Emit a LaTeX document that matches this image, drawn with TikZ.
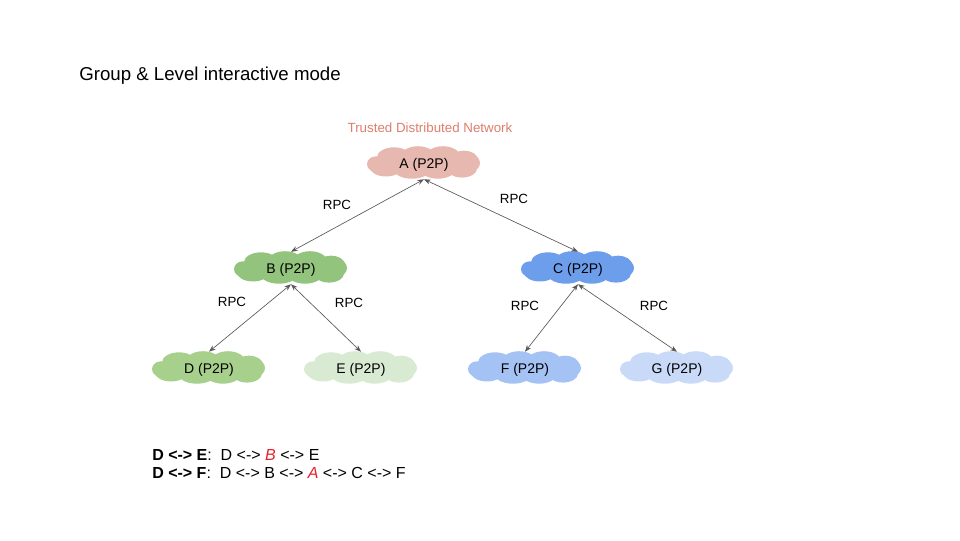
\documentclass[tikz,border=0pt]{standalone}
\usepackage{fontspec}
\setmainfont{Liberation Sans}
\usetikzlibrary{arrows.meta}
\definecolor{cA}{HTML}{E6B8AF}
\definecolor{cB}{HTML}{93C47D}
\definecolor{cC}{HTML}{6D9EEB}
\definecolor{cD}{HTML}{A8D08D}
\definecolor{cE}{HTML}{D9EAD3}
\definecolor{cF}{HTML}{A4C2F4}
\definecolor{cG}{HTML}{C9DAF8}
\definecolor{salmon}{HTML}{DD7E6B}
\definecolor{linkgray}{HTML}{595959}
\definecolor{hot}{HTML}{E6202A}
\tikzset{
  peer/.style={rectangle, minimum width=112*0.75pt, minimum height=32*0.75pt,
    inner sep=0pt, draw=none, font=\fontsize{10.5}{12}\selectfont, text=black},
  peerlabel/.style={peer, yshift=-1.5pt},
  link/.style={draw=linkgray, line width=0.5pt, {Stealth[length=5pt,width=3.8pt]}-{Stealth[length=5pt,width=3.8pt]}},
  rpc/.style={font=\fontsize{10}{12}\selectfont},
}
% puffy cloud body filled behind a peer node
\newcommand\puffcloud[2]{%
  \begin{scope}[shift={(#1.center)}, yscale=1.12]
    \fill[#2] (0,0) ellipse [x radius=48, y radius=10];
    \fill[#2] (-30,-5) ellipse [x radius=17, y radius=9];
    \fill[#2] (-6,-6) ellipse [x radius=17, y radius=9];
    \fill[#2] (19,-6) ellipse [x radius=17, y radius=9];
    \fill[#2] (40,-3) ellipse [x radius=14, y radius=8];
    \fill[#2] (-38,4) ellipse [x radius=16, y radius=8];
    \fill[#2] (-12,6) ellipse [x radius=18, y radius=8];
    \fill[#2] (14,6) ellipse [x radius=17, y radius=8];
    \fill[#2] (38,5) ellipse [x radius=15, y radius=8];
    \fill[#2] (-48,1) ellipse [x radius=9, y radius=7];
    \fill[#2] (48,0) ellipse [x radius=8, y radius=7];
  \end{scope}}
\begin{document}
\begin{tikzpicture}[x=0.75pt,y=-0.75pt]
\useasboundingbox (0,0) rectangle (960,540);

\node[anchor=west, inner sep=0pt, font=\fontsize{14}{16}\selectfont] (title) at (79,76) {Group \& Level interactive mode};
\node[text=salmon, font=\fontsize{10}{12}\selectfont] (net) at (430,128) {Trusted Distributed Network};

\node[peer] (A) at (424,163) {};
\node[peer] (B) at (291,268) {};
\node[peer] (C) at (578,268) {};
\node[peer] (D) at (209,368) {};
\node[peer] (E) at (361,368) {};
\node[peer] (F) at (525,368) {};
\node[peer] (G) at (677,368) {};

\puffcloud{A}{cA}
\puffcloud{B}{cB}
\puffcloud{C}{cC}
\puffcloud{D}{cD}
\puffcloud{E}{cE}
\puffcloud{F}{cF}
\puffcloud{G}{cG}

\node[peerlabel] at (A) {A (P2P)};
\node[peerlabel] at (B) {B (P2P)};
\node[peerlabel] at (C) {C (P2P)};
\node[peerlabel] at (D) {D (P2P)};
\node[peerlabel] at (E) {E (P2P)};
\node[peerlabel] at (F) {F (P2P)};
\node[peerlabel] at (G) {G (P2P)};

\draw[link] (A.south) -- (B.north);
\draw[link] (A.south) -- (C.north);
\draw[link] (B.south) -- (D.north);
\draw[link] (B.south) -- (E.north);
\draw[link] (C.south) -- (F.north);
\draw[link] (C.south) -- (G.north);

\node[rpc] (r1) at (337,205) {RPC};
\node[rpc] (r2) at (514,199) {RPC};
\node[rpc] (r3) at (232,302) {RPC};
\node[rpc] (r4) at (349,303) {RPC};
\node[rpc] (r5) at (525,306) {RPC};
\node[rpc] (r6) at (654,306) {RPC};

\node[anchor=west, font=\fontsize{12}{14}\selectfont, inner sep=0pt] (p1) at (152,455)
  {\textbf{D <-> E}:\ \ D <-> \textcolor{hot}{\textit{B}} <-> E};
\node[anchor=west, font=\fontsize{12}{14}\selectfont, inner sep=0pt] (p2) at (152,473)
  {\textbf{D <-> F}:\ \ D <-> B <-> \textcolor{hot}{\textit{A}} <-> C <-> F};
\end{tikzpicture}
\end{document}
